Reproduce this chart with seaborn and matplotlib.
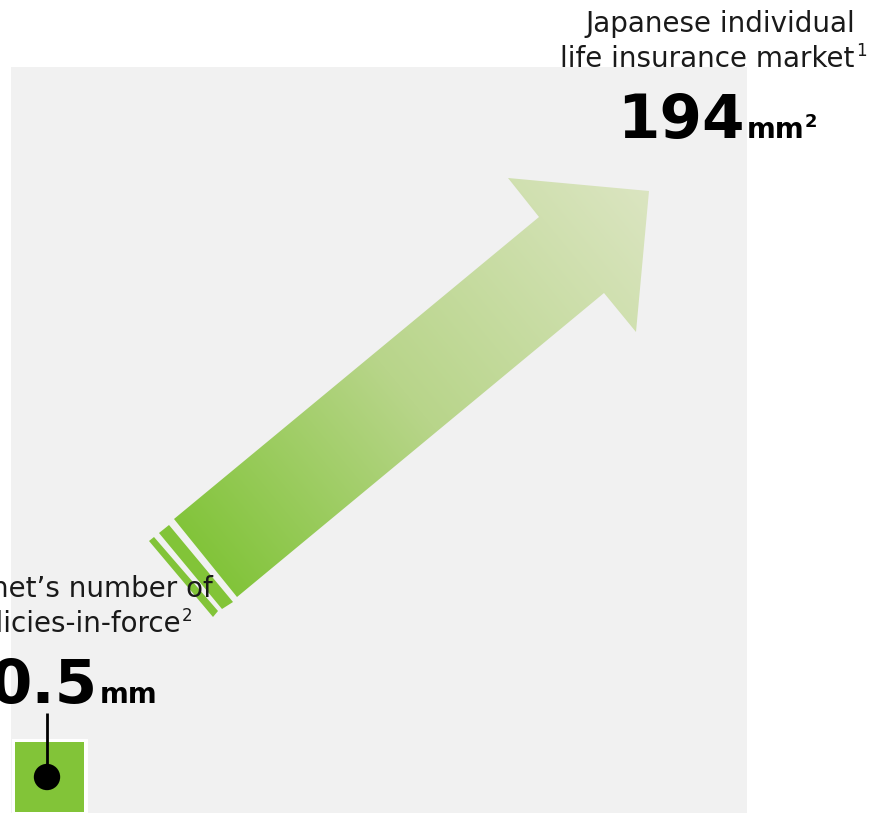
import numpy as np
import pandas as pd
import matplotlib
matplotlib.use("Agg")
import matplotlib.pyplot as plt
from matplotlib.patches import Rectangle, Polygon
import seaborn as sns

# ---- data ----
entities = ["Lifenet", "Japanese market"]
label_line1 = ["Lifenet\u2019s number of", "Japanese individual"]
label_line2 = ["policies-in-force", "life insurance market"]
label_notes = ["2", "1"]
values = [0.5, 194]
units = ["mm", "mm"]
unit_notes = ["", "2"]

sns.set_theme(style="white")
plt.rcParams["font.family"] = ["DejaVu Sans"]

W, H = 875, 813
fig = plt.figure(figsize=(W / 100, H / 100), dpi=100)
ax = fig.add_axes([0, 0, 1, 1])
ax.set_xlim(0, W)
ax.set_ylim(H, 0)
ax.axis("off")

GREEN = (130 / 255, 196 / 255, 56 / 255)
GRAY = (241 / 255, 241 / 255, 241 / 255)

# large square: the whole market
ax.add_patch(Rectangle((11, 67), 736, 760, facecolor=GRAY, edgecolor="none", zorder=1))

# small square: Lifenet, with a white frame
ax.add_patch(Rectangle((12, 739), 76, 80, facecolor="white", edgecolor="none", zorder=2))
ax.add_patch(Rectangle((15, 742), 69, 70, facecolor=GREEN, edgecolor="none", zorder=3))

# growth arrow with gradient fill
arrow_pts = np.array([
    (174, 519), (539, 217), (508, 178), (649, 191),
    (636, 332), (604, 293), (237, 597),
])
stripe1 = np.array([(159, 533), (169, 525), (233, 602), (222, 609)])
stripe2 = np.array([(149, 541), (154, 537), (218, 611), (213, 617)])

tail = np.array([205.5, 558.0])
tip = np.array([649.0, 191.0])
u = tip - tail
L = np.linalg.norm(u)
u = u / L

x0, x1, y0, y1 = 140, 660, 170, 625
gx = np.linspace(x0, x1, 520)
gy = np.linspace(y0, y1, 455)
XX, YY = np.meshgrid(gx, gy)
t = np.clip(((XX - tail[0]) * u[0] + (YY - tail[1]) * u[1]) / L, 0, 1)
stops_t = [0.0, 0.45, 1.0]
stops_c = np.array([[130, 196, 58], [184, 213, 138], [219, 229, 193]]) / 255
img = np.stack([np.interp(t, stops_t, stops_c[:, k]) for k in range(3)], axis=-1)

arrow_patch = Polygon(arrow_pts, closed=True, facecolor="none", edgecolor="none")
ax.add_patch(arrow_patch)
im = ax.imshow(img, extent=(x0, x1, y1, y0), origin="upper", zorder=4, interpolation="bilinear")
im.set_clip_path(arrow_patch)
for s in (stripe1, stripe2):
    ax.add_patch(Polygon(s, closed=True, facecolor=GREEN, edgecolor="none", zorder=4))
ax.set_xlim(0, W)
ax.set_ylim(H, 0)

# pointer into the small square
ax.plot([47, 47], [713, 777], color="black", lw=2, zorder=5, solid_capstyle="butt")
dot = pd.DataFrame({"x": [47], "y": [777]})
sns.scatterplot(data=dot, x="x", y="y", s=360, color="black", edgecolor="none",
                ax=ax, zorder=6, legend=False)
ax.set_xlabel("")
ax.set_ylabel("")

TXT = "#1a1a1a"

def fmt(v):
    return f"{v:g}"

# --- Lifenet labels (left) ---
ax.text(213, 597, label_line1[0], ha="right", va="baseline", fontsize=20, color=TXT, zorder=7)
ax.text(181, 632, label_line2[0], ha="right", va="baseline", fontsize=20, color=TXT, zorder=7)
ax.text(182, 621, label_notes[0], ha="left", va="baseline", fontsize=12, color=TXT, zorder=7)
ax.text(97, 703, fmt(values[0]), ha="right", va="baseline", fontsize=44,
        fontweight="bold", color="black", zorder=7)
ax.text(100, 703, units[0], ha="left", va="baseline", fontsize=20,
        fontweight="bold", color="black", zorder=7)

# --- market labels (top right) ---
ax.text(855, 32, label_line1[1], ha="right", va="baseline", fontsize=20, color=TXT, zorder=7)
ax.text(854, 67, label_line2[1], ha="right", va="baseline", fontsize=20, color=TXT, zorder=7)
ax.text(856, 56, label_notes[1], ha="left", va="baseline", fontsize=12, color=TXT, zorder=7)
ax.text(745, 138, fmt(values[1]), ha="right", va="baseline", fontsize=44,
        fontweight="bold", color="black", zorder=7)
ax.text(747, 138, units[1], ha="left", va="baseline", fontsize=20,
        fontweight="bold", color="black", zorder=7)
ax.text(805, 127, unit_notes[1], ha="left", va="baseline", fontsize=13,
        fontweight="bold", color="black", zorder=7)

fig.savefig("out.png", dpi=100, facecolor="white")
